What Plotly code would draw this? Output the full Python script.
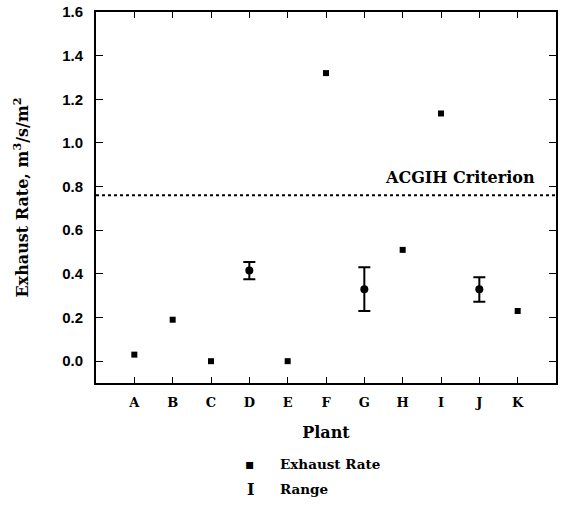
import plotly.graph_objects as go

plants = ["A", "B", "C", "D", "E", "F", "G", "H", "I", "J", "K"]
plant_pos = [1, 2, 3, 4, 5, 6, 7, 8, 9, 10, 11]
exhaust_rate = [0.03, 0.19, 0.0, 0.415, 0.0, 1.32, 0.33, 0.51, 1.135, 0.33, 0.23]
range_hi = [None, None, None, 0.455, None, None, 0.43, None, None, 0.385, None]
range_lo = [None, None, None, 0.375, None, None, 0.23, None, None, 0.272, None]
criterion = 0.76
y_ticks = [0.0, 0.2, 0.4, 0.6, 0.8, 1.0, 1.2, 1.4, 1.6]

err_plus = [(h - v) if h is not None else 0 for h, v in zip(range_hi, exhaust_rate)]
err_minus = [(v - l) if l is not None else 0 for l, v in zip(range_lo, exhaust_rate)]
has_range = [h is not None for h in range_hi]

serif = "DejaVu Serif"
fig = go.Figure()

# range bars
fig.add_trace(go.Scatter(
    x=[p for p, r in zip(plant_pos, has_range) if r],
    y=[v for v, r in zip(exhaust_rate, has_range) if r],
    mode="markers",
    marker=dict(symbol="circle", size=8, color="black"),
    error_y=dict(type="data", symmetric=False,
                 array=[e for e, r in zip(err_plus, has_range) if r],
                 arrayminus=[e for e, r in zip(err_minus, has_range) if r],
                 color="black", thickness=2, width=6),
    showlegend=False,
))
fig.add_trace(go.Scatter(
    x=[p for p, r in zip(plant_pos, has_range) if not r],
    y=[v for v, r in zip(exhaust_rate, has_range) if not r],
    mode="markers",
    marker=dict(symbol="square", size=6, color="black"),
    showlegend=False,
))
# criterion line
fig.add_trace(go.Scatter(
    x=[0, 12], y=[criterion, criterion], mode="lines",
    line=dict(color="black", width=2, dash="3px,3px"),
    showlegend=False,
))

fig.add_annotation(x=9.5, y=0.84, text="<b>ACGIH Criterion</b>", showarrow=False,
                   font=dict(family=serif, size=16, color="black"))

# legend
leg_y1 = -0.218
leg_y2 = -0.286
fig.add_annotation(xref="paper", yref="paper", x=0.335, y=leg_y1, text="▪", showarrow=False,
                   font=dict(family=serif, size=14, color="black"), xanchor="center", yanchor="middle")
fig.add_annotation(xref="paper", yref="paper", x=0.396, y=leg_y1, text="<b>Exhaust Rate</b>",
                   showarrow=False, font=dict(family=serif, size=13.5, color="black"),
                   xanchor="left", yanchor="middle")
fig.add_annotation(xref="paper", yref="paper", x=0.335, y=leg_y2, text="<b>I</b>", showarrow=False,
                   font=dict(family=serif, size=16, color="black"), xanchor="center", yanchor="middle")
fig.add_annotation(xref="paper", yref="paper", x=0.396, y=leg_y2, text="<b>Range</b>",
                   showarrow=False, font=dict(family=serif, size=13.5, color="black"),
                   xanchor="left", yanchor="middle")

fig.update_layout(
    width=564, height=511,
    margin=dict(l=96, r=8, t=12, b=128),
    paper_bgcolor="white", plot_bgcolor="white",
    font=dict(family=serif, color="black"),
    xaxis=dict(range=[0, 12], tickvals=plant_pos, ticktext=[f"<b>{p}</b>" for p in plants],
               ticks="inside", ticklen=6, tickwidth=1, tickcolor="black",
               showline=True, linewidth=2, linecolor="black", mirror="ticks",
               showgrid=False, zeroline=False, automargin=False,
               ticklabelstandoff=6,
               tickfont=dict(family=serif, size=13),
               title=dict(text="<b>Plant</b>", font=dict(family=serif, size=16), standoff=18)),
    yaxis=dict(range=[-0.1, 1.6], tickvals=y_ticks, ticktext=[f"<b>{t:.1f}</b>" for t in y_ticks],
               ticks="inside", ticklen=7, tickwidth=1, tickcolor="black",
               showline=True, linewidth=2, linecolor="black", mirror="ticks",
               showgrid=False, zeroline=False, automargin=False,
               ticklabelstandoff=8, ticklabeloverflow="allow",
               tickfont=dict(family="Liberation Sans", size=15),
               title=dict(text="<b>Exhaust Rate, m<sup>3</sup>/s/m<sup>2</sup></b>",
                          font=dict(family=serif, size=16), standoff=30)),
)

fig.write_html("out.html",
               config={"displayModeBar": False},
               post_script="document.body.style.margin='0';document.body.style.overflow='hidden';")
